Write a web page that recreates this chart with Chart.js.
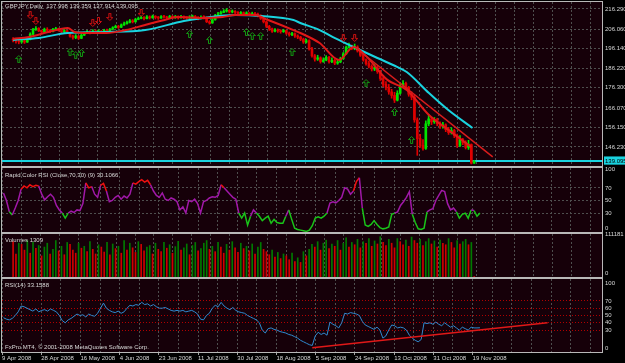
<!DOCTYPE html>
<html>
<head>
<meta charset="utf-8">
<script src="https://cdn.jsdelivr.net/npm/chart.js@4.4.0/dist/chart.umd.min.js"></script>
<style>
  html, body { margin: 0; padding: 0; background: #000; }
  #wrap { position: relative; width: 625px; height: 363px; overflow: hidden; background: #000; }
  #wrap canvas { position: absolute; left: 0; top: 0; }
</style>
</head>
<body>
<div id="wrap">
  <canvas id="main" width="625" height="363"></canvas>
  <canvas id="crsi" width="625" height="363"></canvas>
  <canvas id="vol" width="625" height="363"></canvas>
  <canvas id="rsi" width="625" height="363"></canvas>
</div>
<script>
// ---- data (GBPJPY daily, 9 Apr - 21 Nov 2008) ----
const dateLabels = ['9 Apr 2008', '28 Apr 2008', '16 May 2008', '4 Jun 2008', '23 Jun 2008', '11 Jul 2008',
  '30 Jul 2008', '18 Aug 2008', '5 Sep 2008', '24 Sep 2008', '13 Oct 2008', '31 Oct 2008', '19 Nov 2008'];

const firstOpen = 200.8;
const closes = [
  200.5, 200.0, 199.6, 200.2, 199.5, 200.8, 203.5, 205.8, 206.5, 205.2,
  204.6, 206.0, 205.5, 204.8, 205.9, 206.3, 205.4, 204.7, 205.3, 204.2,
  202.5, 201.8, 202.6, 201.4, 203.0, 204.0, 204.8, 204.3, 205.2, 204.6,
  205.0, 204.4, 205.5, 205.1, 206.0, 206.8, 207.5, 207.0, 208.2, 208.8,
  209.5, 210.3, 209.8, 211.0, 211.5, 212.0, 211.4, 212.3, 211.8, 212.6,
  212.0, 211.7, 212.4, 212.2, 211.6, 212.5, 212.0, 212.3, 211.8, 212.4,
  212.0, 211.6, 212.2, 212.5, 212.0, 211.4, 212.1, 212.0, 209.8, 209.2,
  210.8, 213.0, 213.8, 214.5, 215.2, 215.6, 214.8, 215.0, 214.6, 214.0,
  214.4, 213.8, 214.2, 213.5, 214.0, 213.6, 213.0, 211.5, 209.8, 207.5,
  206.2, 205.0, 205.6, 205.2, 204.8, 205.4, 204.0, 203.2, 203.8, 202.6,
  202.0, 201.0, 199.5, 200.2, 196.0, 192.5, 190.8, 191.5, 189.6, 190.4,
  191.8, 189.5, 190.2, 188.8, 189.4, 191.0, 193.5, 196.8, 197.5, 196.2,
  197.0, 195.0, 192.8, 190.5, 188.6, 187.2, 185.8, 186.5, 184.5, 181.0,
  178.0, 176.5, 174.2, 172.4, 170.0, 173.5, 177.0, 178.5, 176.5, 173.0,
  171.5, 160.0, 150.5, 147.0, 145.5, 158.0, 160.5, 159.0, 160.2, 158.0,
  156.8, 157.5, 155.0, 153.5, 154.6, 152.0, 147.0, 150.0, 148.5, 146.0,
  147.5, 137.998, 139.095
];
const highs = [
  201.8, 201.2, 200.9, 201.0, 200.8, 201.6, 204.2, 206.5, 207.4, 206.8,
  205.6, 206.6, 206.8, 205.9, 206.5, 207.0, 206.6, 205.8, 205.9, 205.6,
  204.4, 203.0, 203.3, 202.8, 203.6, 204.6, 205.5, 205.3, 205.8, 205.7,
  205.7, 205.4, 206.0, 206.1, 206.5, 207.3, 208.1, 208.0, 208.7, 209.6,
  210.2, 211.0, 210.9, 211.6, 212.2, 212.7, 212.4, 212.9, 212.8, 213.2,
  212.9, 212.5, 213.0, 213.1, 212.6, 213.1, 212.9, 213.0, 212.8, 213.1,
  212.8, 212.4, 212.9, 213.2, 213.0, 212.4, 212.8, 212.9, 212.3, 210.4,
  211.4, 213.6, 214.6, 215.2, 216.0, 216.5, 216.0, 215.8, 215.5, 215.0,
  215.0, 214.8, 214.9, 214.5, 214.7, 214.6, 214.2, 213.4, 211.8, 210.2,
  208.0, 206.6, 206.4, 206.2, 205.8, 206.0, 205.6, 204.6, 204.5, 204.2,
  203.2, 202.4, 201.5, 201.0, 200.6, 196.8, 193.2, 192.8, 192.0, 191.5,
  192.6, 192.2, 191.5, 190.8, 190.6, 191.8, 194.2, 197.4, 199.0, 198.0,
  198.5, 197.6, 195.8, 193.4, 191.0, 189.8, 188.0, 188.4, 187.5, 185.2,
  181.8, 179.5, 178.0, 175.5, 174.0, 174.8, 178.6, 180.0, 179.2, 177.0,
  174.2, 172.6, 161.0, 152.6, 150.0, 159.5, 162.8, 161.4, 161.2, 160.8,
  159.0, 158.8, 158.0, 156.2, 156.0, 155.2, 152.8, 152.0, 150.6, 149.4,
  149.6, 147.8, 139.359
];
const lows = [
  199.6, 199.0, 198.6, 199.0, 198.8, 199.3, 200.6, 203.2, 205.4, 204.8,
  204.0, 204.2, 204.9, 204.3, 204.6, 205.4, 205.0, 204.1, 204.3, 203.8,
  202.0, 201.0, 201.2, 200.8, 201.2, 202.8, 203.8, 203.6, 204.0, 204.2,
  204.2, 203.9, 204.2, 204.6, 205.0, 205.7, 206.6, 206.4, 206.8, 207.9,
  208.6, 209.2, 209.2, 209.6, 210.8, 211.3, 210.8, 211.2, 211.2, 211.6,
  211.2, 211.0, 211.5, 211.6, 211.0, 211.4, 211.4, 211.5, 211.2, 211.6,
  211.3, 211.0, 211.2, 211.8, 211.4, 210.8, 211.2, 211.2, 209.4, 208.6,
  209.0, 210.6, 213.0, 213.6, 214.4, 214.7, 214.2, 214.3, 213.9, 213.4,
  213.6, 213.1, 213.4, 212.9, 213.2, 212.8, 212.3, 211.0, 209.2, 206.8,
  205.4, 204.4, 204.6, 204.4, 204.0, 204.4, 203.4, 202.5, 202.8, 201.9,
  201.2, 200.2, 198.8, 199.0, 195.4, 191.8, 189.8, 190.2, 188.8, 189.2,
  190.0, 188.8, 189.0, 188.0, 188.2, 189.0, 190.8, 193.2, 196.4, 195.6,
  195.6, 194.4, 192.2, 189.8, 187.8, 186.4, 184.8, 185.0, 183.6, 180.0,
  176.8, 175.2, 173.0, 171.0, 168.8, 169.6, 173.0, 176.6, 175.6, 172.0,
  170.2, 158.8, 142.0, 146.0, 144.6, 145.0, 157.0, 157.6, 158.2, 157.0,
  155.6, 155.8, 154.0, 152.6, 152.8, 151.0, 146.0, 146.4, 147.4, 145.2,
  145.0, 137.6, 137.914
];
const opens = closes.map((c, i) => i === 0 ? firstOpen : closes[i - 1]);

// moving averages (vertices)
const redMaX = [0, 5.6, 12.4, 19.2, 21.6, 26, 32.8, 39.6, 46.4, 53.2, 57.7, 66.8, 73.6, 78, 84.9, 89.6, 98.5,
  100.9, 107.7, 114.5, 119.6, 123.6, 131.5, 138.3, 146.1, 152.9, 161];
const redMaY = [201.1, 202.1, 204.6, 206.6, 204.6, 204.1, 204.1, 205.6, 208.2, 210.7, 212.2, 211.7, 212.2, 213.2,
  213.2, 210.7, 205.6, 204.1, 199.0, 190.4, 197.0, 193.0, 180.3, 175.2, 162.5, 154.9, 146.2];
const cyanMaX = [0, 9, 19.2, 32.8, 46.4, 60, 66.8, 78, 87.2, 98.5, 100.9, 107.7, 112.2, 119.6, 128, 134.9, 138.3,
  146.1, 152.9, 161.4];
const cyanMaY = [200.6, 201.6, 204.1, 204.6, 205.6, 210.2, 211.7, 213.2, 212.7, 210.7, 209.2, 205.6, 202.1, 197.0,
  191.4, 186.9, 184.3, 173.6, 165.0, 155.9];
const trendX = [120, 168.5];
const trendY = [197.0, 141.2];

// signal arrows
const upArrowX = [2, 20, 22, 24, 62, 69, 82, 84, 87, 98, 124, 134, 140];
const upArrowY = [190.9, 194.5, 192.9, 194.0, 203.6, 200.5, 204.6, 202.6, 202.6, 194.5, 178.7, 164.0, 149.8];
const downArrowX = [6, 8, 28, 30, 34, 45, 116, 120];
const downArrowY = [213.2, 210.2, 209.2, 210.2, 212.2, 214.3, 201.6, 201.6];

// Rapid Color RSI (9)
const crsi = [
  62, 50, 32, 27, 38, 50, 68, 73, 70, 75, 72, 74, 73, 60, 51, 56, 60, 55, 42, 35,
  30, 22, 30, 33, 31, 35, 34, 45, 78, 70, 72, 60, 55, 74, 77, 65, 48, 50, 55, 58,
  52, 57, 54, 60, 78, 76, 80, 83, 79, 82, 75, 65, 58, 55, 62, 52, 50, 54, 52, 48,
  35, 40, 30, 50, 48, 52, 45, 30, 48, 50, 54, 56, 55, 58, 75, 70, 65, 60, 55, 52,
  30, 22, 30, 11, 25, 35, 30, 25, 18, 22, 25, 14, 20, 15, 14, 14, 25, 35, 20, 6,
  4, 3, 2, 1, 3, 10, 22, 24, 22, 25, 30, 46, 48, 46, 50, 55, 70, 68, 60, 65,
  80, 86, 38, 11, 9, 12, 18, 12, 7, 5, 6, 8, 28, 30, 32, 42, 48, 55, 64, 28,
  15, 5, 4, 6, 32, 35, 37, 50, 58, 66, 64, 45, 35, 38, 32, 22, 28, 30, 22, 35,
  34, 25, 30.1066
];

// Volumes
const volumes = [
  92000, 60000, 88000, 85000, 70000, 95000, 62000, 90000, 75000, 82000,
  55000, 78000, 88000, 60000, 72000, 95000, 68000, 80000, 58000, 90000,
  85000, 70000, 62000, 88000, 75000, 80000, 66000, 92000, 72000, 60000,
  84000, 78000, 65000, 90000, 58000, 86000, 74000, 80000, 62000, 95000,
  70000, 88000, 76000, 64000, 92000, 85000, 68000, 78000, 82000, 60000,
  88000, 72000, 66000, 90000, 75000, 84000, 62000, 79000, 93000, 70000,
  76000, 86000, 58000, 82000, 90000, 68000, 74000, 88000, 95000, 72000,
  80000, 66000, 90000, 78000, 62000, 85000, 70000, 92000, 76000, 64000,
  88000, 74000, 80000, 68000, 86000, 60000, 78000, 90000, 72000, 66000,
  58000, 70000, 52000, 64000, 48000, 60000, 55000, 45000, 62000, 40000,
  50000, 38000, 66000, 55000, 72000, 85000, 78000, 92000, 70000, 88000,
  96000, 74000, 86000, 80000, 95000, 70000, 88000, 102000, 78000, 90000,
  84000, 98000, 76000, 92000, 88000, 100000, 80000, 94000, 86000, 105000,
  90000, 82000, 98000, 88000, 76000, 100000, 92000, 84000, 96000, 80000,
  104000, 95000, 88000, 98000, 82000, 92000, 100000, 86000, 94000, 78000,
  96000, 88000, 84000, 100000, 90000, 76000, 95000, 86000, 92000, 98000,
  84000, 90000, 1309
];

// RSI(14)
const rsi = [
  47, 45, 44, 46, 50, 55, 63, 62, 60, 58, 56, 59, 55, 57, 58, 56, 59, 57, 55, 50,
  43, 40, 44, 46, 49, 52, 50, 51, 48, 52, 50, 49, 53, 60, 67, 60, 57, 55, 54, 56,
  53, 55, 60, 64, 63, 65, 64, 68, 65, 66, 63, 65, 62, 60, 60, 61, 59, 57, 56, 57,
  56, 57, 55, 56, 57, 55, 52, 45, 44, 50, 53, 60, 64, 62, 68, 63, 60, 58, 61, 57,
  55, 54, 53, 50, 48, 46, 44, 40, 30, 26, 32, 33, 31, 30, 28, 27, 26, 24, 23, 21,
  19, 16, 14, 12, 10, 9, 22, 27, 24, 26, 23, 41, 38, 36, 33, 40, 53, 52, 54, 53,
  52, 50, 42, 37, 35, 33, 31, 34, 30, 19, 22, 30, 37, 36, 33, 34, 33, 30, 23, 19,
  16, 14, 17, 40, 39, 40, 38, 41, 38, 36, 40, 37, 34, 36, 33, 30, 34, 32, 30, 34,
  33, 33, 33.1588
];
const rsiTrendX = [105, 185];
const rsiTrendY = [5.9, 40.1];

// axis tick labels
const priceTicks = [216.290, 206.060, 196.140, 186.220, 176.300, 166.070, 156.150, 146.230];
const crsiTicks = [100, 70, 50, 30, 0];
const volTicks = [111181, 0];
const rsiTicks = [100, 70, 60, 50, 40, 30, 0];
const crsiLevels = [70, 50, 30];
const rsiLevels = [70, 60, 50, 40, 30];

// ---- look ----
const plotBg = '#160009';
const frameColor = '#b8b8b8';
const gridColor = '#4e4e4e';
const textColor = '#d8d8d8';
const upCol = '#00e400', downCol = '#e00000';
const FONT = { family: '"Liberation Sans", Arial, sans-serif', size: 6 };
const X_MIN = -0.5, X_MAX = 203.5, GRID_STEP = 20 / 3;
const xTickVals = Array.from({ length: 31 }, (_, k) => X_MIN + k * GRID_STEP);

const N = closes.length;
const bid = closes[N - 1];
const idx = closes.map((_, i) => i);
const pts = (xs, ys) => xs.map((x, i) => ({ x: x, y: ys[i] }));

Chart.defaults.animation = false;
Chart.defaults.events = [];
Chart.defaults.plugins.legend.display = false;
Chart.defaults.plugins.tooltip.enabled = false;

function arrowImg(color, up) {
  const c = document.createElement('canvas');
  c.width = 7; c.height = 8;
  const g = c.getContext('2d');
  g.strokeStyle = color;
  g.lineWidth = 1;
  g.beginPath();
  const p = [[3.5, 0.5], [6.5, 3.5], [4.5, 3.5], [4.5, 7.5], [2.5, 7.5], [2.5, 3.5], [0.5, 3.5]];
  p.forEach(([x, y], i) => {
    const yy = up ? y : 8 - y;
    if (i === 0) g.moveTo(x, yy); else g.lineTo(x, yy);
  });
  g.closePath();
  g.stroke();
  return c;
}

// panel background, frame and caption text
const panelPlugin = {
  id: 'panel',
  beforeDraw(chart) {
    const { ctx, chartArea: a } = chart;
    ctx.save();
    ctx.fillStyle = plotBg;
    ctx.fillRect(a.left, a.top, a.right - a.left, a.bottom - a.top);
    ctx.restore();
  },
  afterDraw(chart, args, opts) {
    const { ctx, chartArea: a } = chart;
    ctx.save();
    ctx.strokeStyle = frameColor;
    ctx.lineWidth = 1;
    ctx.strokeRect(a.left - 0.5, a.top - 0.5, a.right - a.left + 1, a.bottom - a.top + 1);
    ctx.fillStyle = textColor;
    ctx.font = FONT.size + 'px ' + FONT.family;
    ctx.textBaseline = 'middle';
    (opts.captions || []).forEach(c => {
      ctx.fillText(c.text, a.left + 3, c.dy >= 0 ? a.top + c.dy : a.bottom + c.dy);
    });
    ctx.restore();
  }
};

// top / bottom labels sit a few px inside the panel like in MT4
function edgeIn(v, lo, hi, px) {
  const u = (hi - lo) * 4 / px;
  if (v >= hi) return hi - u;
  if (v <= lo) return lo + u;
  return v;
}

function xScale(showLabels) {
  return {
    type: 'linear', min: X_MIN, max: X_MAX,
    afterBuildTicks: s => { s.ticks = xTickVals.map(v => ({ value: v })); },
    afterFit: s => { s.height = showLabels ? 11 : 0; s.paddingLeft = 0; s.paddingRight = 0; },
    grid: {
      color: gridColor, lineWidth: 1, drawTicks: showLabels, tickLength: 3, tickBorderDash: [],
      tickColor: c => (c.index % 2 === 0 && c.index / 2 < dateLabels.length) ? '#a0a0a0' : 'rgba(0,0,0,0)'
    },
    border: { display: false, dash: [2, 2] },
    ticks: {
      display: showLabels, autoSkip: false, maxRotation: 0, minRotation: 0, align: 'start', padding: 0,
      color: textColor, font: FONT,
      callback: (v, i) => (i % 2 === 0 && i / 2 < dateLabels.length) ? dateLabels[i / 2] : ''
    }
  };
}

function yScale(min, max, list, px, fmt, gridFn, extra) {
  return Object.assign({
    type: 'linear', position: 'right', min: min, max: max,
    afterBuildTicks: s => { s.ticks = list.map(v => ({ value: edgeIn(v, min, max, px), orig: v })); },
    afterFit: s => { s.width = 23; s.paddingTop = 0; s.paddingBottom = 0; },
    grid: {
      drawTicks: false,
      color: c => gridFn(c.tick ? c.tick.orig : null).color,
      lineWidth: c => gridFn(c.tick ? c.tick.orig : null).width || 1
    },
    border: { display: false, dash: c => gridFn(c.tick ? c.tick.orig : null).dash || [2, 2] },
    ticks: {
      padding: 3, crossAlign: 'near', color: textColor, font: FONT, autoSkip: false,
      callback: (v, i, t) => fmt(t[i].orig)
    }
  }, extra || {});
}

const none = { color: 'rgba(0,0,0,0)' };
const baseOpts = (pad) => ({
  responsive: false, maintainAspectRatio: false,
  layout: { padding: pad, autoPadding: false }
});

// ---- main price panel ----
const bodyColors = closes.map((c, i) => c >= opens[i] ? upCol : downCol);
const priceList = priceTicks.concat([bid]);
new Chart(document.getElementById('main'), {
  type: 'bar',
  data: {
    datasets: [
      { type: 'bar', order: 10, grouped: false, barThickness: 1, backgroundColor: bodyColors,
        data: idx.map(i => ({ x: i, y: [lows[i], highs[i]] })) },
      { type: 'bar', order: 9, grouped: false, barThickness: 2, minBarLength: 1, backgroundColor: bodyColors,
        data: idx.map(i => ({ x: i, y: [opens[i], closes[i]] })) },
      { type: 'line', order: 5, data: pts(cyanMaX, cyanMaY), borderColor: '#19d3df', borderWidth: 2,
        pointRadius: 0, cubicInterpolationMode: 'monotone' },
      { type: 'line', order: 4, data: pts(redMaX, redMaY), borderColor: '#e01818', borderWidth: 2,
        pointRadius: 0, cubicInterpolationMode: 'monotone' },
      { type: 'line', order: 3, data: pts(trendX, trendY), borderColor: '#d81c1c', borderWidth: 1.5, pointRadius: 0 },
      { type: 'scatter', order: 1, data: pts(upArrowX, upArrowY), pointStyle: arrowImg('#139a13', true) },
      { type: 'scatter', order: 1, data: pts(downArrowX, downArrowY), pointStyle: arrowImg('#d01010', false) }
    ]
  },
  options: Object.assign(baseOpts({ top: 2, bottom: 197, left: 2, right: 0 }), {
    scales: {
      x: xScale(false),
      y: yScale(136.58, 219.84, priceList, 164, v => v.toFixed(3),
        v => v === bid ? { color: '#19d3df', width: 2, dash: [] } : { color: gridColor }, {})
    },
    plugins: { panel: { captions: [{ text: 'GBPJPY,Daily  ' + [opens[N - 1], highs[N - 1], lows[N - 1], closes[N - 1]].map(v => v.toFixed(3)).join(' '), dy: 4 }] } }
  }),
  plugins: [panelPlugin]
});
// bid label box on the price axis
(function () {
  const ch = Chart.getChart('main');
  const t = ch.options.scales.y.ticks;
  t.showLabelBackdrop = c => c.tick && c.tick.orig === bid;
  t.backdropColor = '#19d3df';
  t.backdropPadding = { top: 1, bottom: 0, left: 1, right: 2 };
  t.color = c => c.tick && c.tick.orig === bid ? '#000' : textColor;
  ch.update();
})();

// ---- Rapid Color RSI ----
const crsiColor = v => v > 70 ? '#f01010' : v < 30 ? '#19c419' : '#a018a8';
new Chart(document.getElementById('crsi'), {
  type: 'line',
  data: {
    datasets: [{
      data: pts(idx, crsi), borderWidth: 1.5, pointRadius: 0, borderColor: '#a018a8',
      segment: { borderColor: c => crsiColor((c.p0.parsed.y + c.p1.parsed.y) / 2) }
    }]
  },
  options: Object.assign(baseOpts({ top: 168, bottom: 131, left: 2, right: 0 }), {
    scales: {
      x: xScale(false),
      y: yScale(0, 101.5, crsiTicks, 64, v => String(v),
        v => crsiLevels.includes(v) ? { color: gridColor } : none)
    },
    plugins: { panel: { captions: [{ text: 'Rapid Color RSI (Close,70,30) (9) ' + crsi[N - 1].toFixed(4), dy: 7 }] } }
  }),
  plugins: [panelPlugin]
});

// ---- Volumes ----
const volColors = volumes.map((v, i) => i > 0 && v > volumes[i - 1] ? '#007a00' : '#d00000');
new Chart(document.getElementById('vol'), {
  type: 'bar',
  data: {
    datasets: [{ data: idx.map(i => ({ x: i, y: volumes[i] })), backgroundColor: volColors, barThickness: 1 }]
  },
  options: Object.assign(baseOpts({ top: 234, bottom: 86, left: 2, right: 0 }), {
    scales: {
      x: xScale(false),
      y: yScale(0, 112000, volTicks, 43, v => String(v), () => none)
    },
    plugins: { panel: { captions: [{ text: 'Volumes ' + volumes[N - 1], dy: 6 }] } }
  }),
  plugins: [panelPlugin]
});

// ---- RSI(14) ----
new Chart(document.getElementById('rsi'), {
  type: 'line',
  data: {
    datasets: [
      { data: pts(idx, rsi), borderColor: '#2f8ad0', borderWidth: 1, pointRadius: 0, order: 2 },
      { data: pts(rsiTrendX, rsiTrendY), borderColor: '#e01818', borderWidth: 1.5, pointRadius: 0, order: 1 }
    ]
  },
  options: Object.assign(baseOpts({ top: 279, bottom: 0, left: 2, right: 0 }), {
    scales: {
      x: xScale(true),
      y: yScale(0, 100, rsiTicks, 73, v => String(v),
        v => rsiLevels.includes(v) ? { color: '#b00000', dash: [1, 2] } : none)
    },
    plugins: { panel: { captions: [
      { text: 'RSI(14) ' + rsi[N - 1].toFixed(4), dy: 6 },
      { text: 'FxPro MT4, \u00a9 2001-2008 MetaQuotes Software Corp.', dy: -5 }
    ] } }
  }),
  plugins: [panelPlugin]
});
</script>
</body>
</html>
